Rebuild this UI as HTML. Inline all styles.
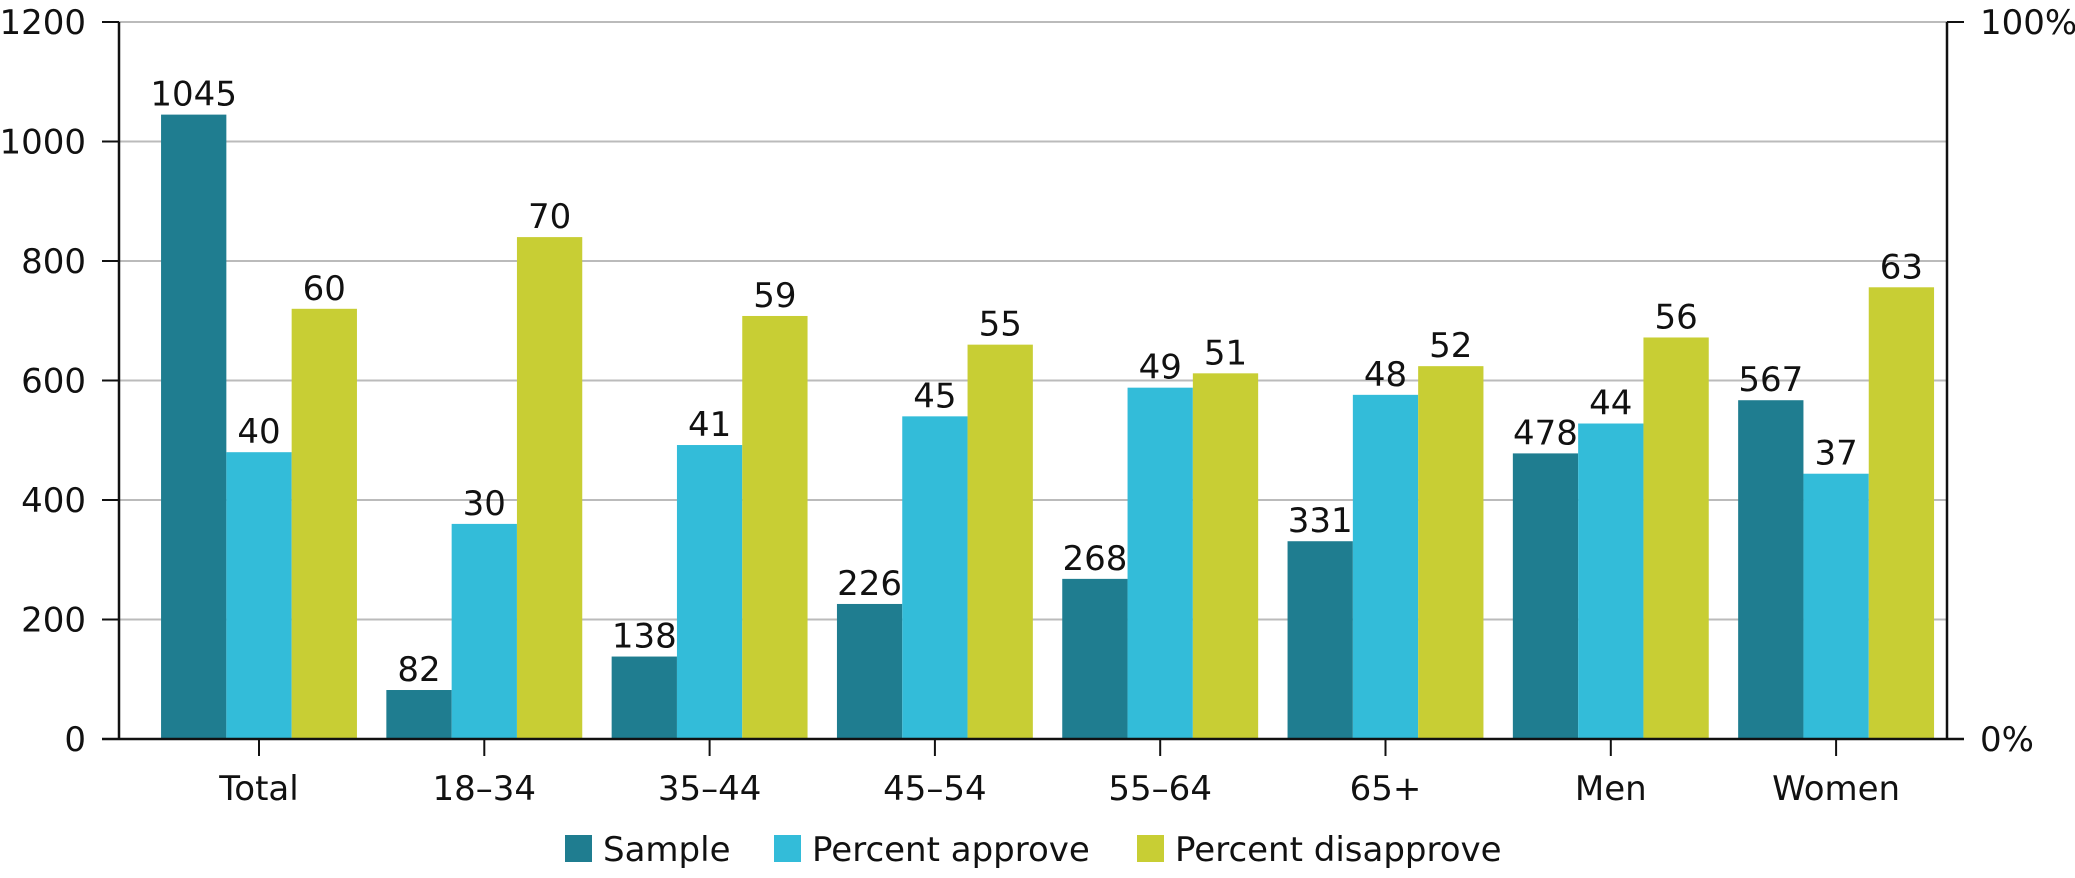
<!DOCTYPE html>
<html><head><meta charset="utf-8"><style>
body{margin:0;background:#fff;}
svg text{font-family:"DejaVu Sans","Liberation Sans",sans-serif;fill:#111;}
</style></head><body>
<svg id="chart" width="2075" height="873" viewBox="0 0 2075 873" xmlns="http://www.w3.org/2000/svg"></svg>
<script>
const categories=["Total","18–34","35–44","45–54","55–64","65+","Men","Women"];
const sample=[1045,82,138,226,268,331,478,567];
const approve=[40,30,41,45,49,48,44,37];
const disapprove=[60,70,59,55,51,52,56,63];
const leftTicks=[0,200,400,600,800,1000,1200];
const rightTicks=["0%","100%"];
const NS="http://www.w3.org/2000/svg";
const svg=document.getElementById('chart');
const X0=119,X1=1947,Y0=739,Y1=22;
const FS=34;
const yL=v=>Y0-(v/1200)*(Y0-Y1);
const yP=v=>Y0-(v/100)*(Y0-Y1);
const cx=i=>259+i*225.3;
const BW=65.3;
function el(t,a,p){const e=document.createElementNS(NS,t);for(const k in a)e.setAttribute(k,a[k]);(p||svg).appendChild(e);return e;}
leftTicks.forEach(v=>{
 if(v>0){const g=el('line',{x1:X0,x2:X1,y1:yL(v),y2:yL(v),stroke:'#bbb','stroke-width':2});
 
 }
 const t=el('line',{x1:102,x2:X0,y1:yL(v),y2:yL(v),stroke:'#111','stroke-width':2});
 
 
 const l=el('text',{x:86,y:yL(v)+12,'text-anchor':'end','font-size':FS});l.textContent=v;
 
 
});
rightTicks.forEach((s,i)=>{
 const y=i?Y1:Y0;
 const t=el('line',{x1:X1,x2:1964,y1:y,y2:y,stroke:'#111','stroke-width':2});
 
 
 const l=el('text',{x:1980,y:y+12,'font-size':FS});l.textContent=s;
 
 
});
const series=[[sample,'#1f7d90',yL,'sample'],[approve,'#33bcd9',yP,'approve'],[disapprove,'#c8ce34',yP,'disapprove']];
categories.forEach((c,i)=>{
 series.forEach((s,j)=>{
  const v=s[0][i],x=cx(i)-1.5*BW+j*BW,y=s[2](v);
  const r=el('rect',{x:x,y:y,width:BW,height:Y0-y,fill:s[1]});
  
  
  const t=el('text',{x:x+BW/2,y:y-9,'text-anchor':'middle','font-size':FS});t.textContent=v;
  
  
 });
 const tk=el('line',{x1:cx(i),x2:cx(i),y1:Y0,y2:756,stroke:'#111','stroke-width':2});
 
 
 const l=el('text',{x:cx(i),y:800,'text-anchor':'middle','font-size':FS});l.textContent=c;
 
 
});
const ax=[[X0,Y1,X0,Y0],[X1,Y1,X1,Y0],[102,Y0,1964,Y0]];
ax.forEach(a=>{const e=el('line',{x1:a[0],y1:a[1],x2:a[2],y2:a[3],stroke:'#111','stroke-width':2.5});
 
 });
const legend=[['Sample','#1f7d90',565],['Percent approve','#33bcd9',774],['Percent disapprove','#c8ce34',1137]];
legend.forEach(L=>{
 const r=el('rect',{x:L[2],y:835,width:27,height:27,fill:L[1]});
 
 
 const t=el('text',{x:L[2]+38,y:861,'font-size':FS});t.textContent=L[0];
 
 
});
</script>
</body></html>
